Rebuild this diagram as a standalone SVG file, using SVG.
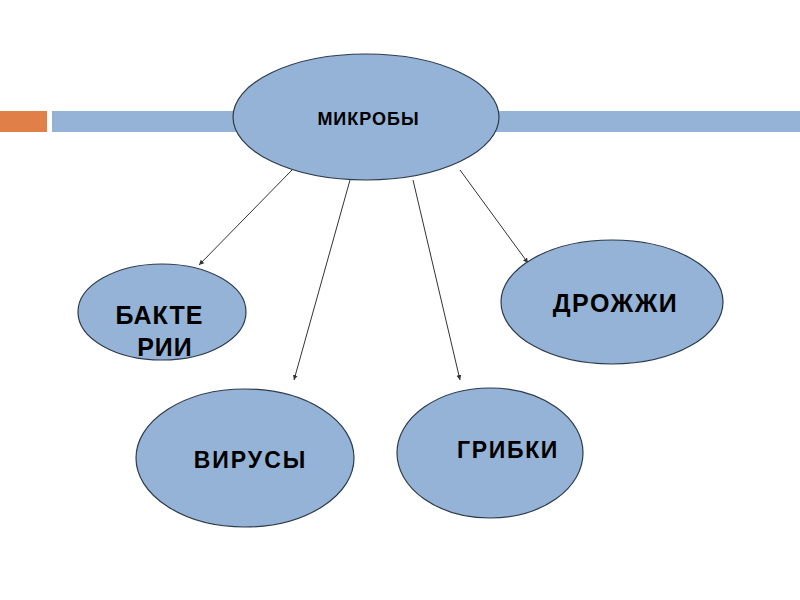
<svg xmlns="http://www.w3.org/2000/svg" width="800" height="600" viewBox="0 0 800 600">
<style>
.node ellipse{fill:#95b3d7;stroke:#2e3b4a;stroke-width:1.2}
.lbl{font-family:"Liberation Sans",Arial,sans-serif;font-weight:bold;fill:#000;text-anchor:middle}
.conn line{stroke:#333;stroke-width:1}
</style>
<defs>
<marker id="ah" markerWidth="6" markerHeight="6" refX="5" refY="3" orient="auto" markerUnits="userSpaceOnUse">
<path d="M0,0.5 L5,3 L0,5.5 Z" fill="#333"/>
</marker>
</defs>
<rect width="800" height="600" fill="#fff"/>
<rect x="0" y="111" width="47" height="21" fill="#e07f47"/>
<rect x="52" y="111" width="748" height="21" fill="#95b3d7"/>
<g class="conn">
<line x1="292" y1="170" x2="199" y2="265" marker-end="url(#ah)"/>
<line x1="350" y1="180" x2="294" y2="380" marker-end="url(#ah)"/>
<line x1="413" y1="180" x2="460" y2="380" marker-end="url(#ah)"/>
<line x1="460" y1="170" x2="528" y2="263" marker-end="url(#ah)"/>
</g>
<g id="mikroby" class="node">
<ellipse cx="366" cy="117" rx="133" ry="63"/>
<text class="lbl" x="368.5" y="125" font-size="18" letter-spacing="1">МИКРОБЫ</text>
</g>
<g id="bakterii" class="node">
<ellipse cx="162" cy="312" rx="84" ry="48"/>
<text class="lbl" x="159.5" y="324" font-size="25" letter-spacing="1">БАКТЕ</text>
<text class="lbl" x="165" y="356" font-size="25" letter-spacing="1">РИИ</text>
</g>
<g id="drozhzhi" class="node">
<ellipse cx="612" cy="302" rx="111" ry="62"/>
<text class="lbl" x="615.5" y="312" font-size="25" letter-spacing="1.5">ДРОЖЖИ</text>
</g>
<g id="virusy" class="node">
<ellipse cx="245" cy="458" rx="109" ry="69"/>
<text class="lbl" x="250.5" y="468" font-size="23" letter-spacing="2">ВИРУСЫ</text>
</g>
<g id="gribki" class="node">
<ellipse cx="490" cy="453" rx="93" ry="65"/>
<text class="lbl" x="508" y="458" font-size="23" letter-spacing="1.7">ГРИБКИ</text>
</g>
</svg>
